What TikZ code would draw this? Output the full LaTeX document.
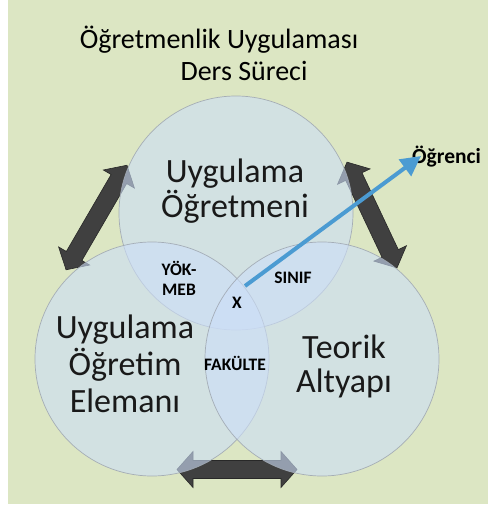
\documentclass[tikz,border=0pt]{standalone}
\usepackage{fontspec}
\setmainfont{Carlito}
\usetikzlibrary{arrows.meta}
\definecolor{bggreen}{RGB}{220,230,195}
\definecolor{circfill}{RGB}{204,222,248}
\definecolor{circline}{RGB}{160,168,178}
\definecolor{arrgray}{RGB}{64,64,64}
\definecolor{arrline}{RGB}{40,40,40}
\definecolor{bluearr}{RGB}{75,155,210}
\tikzset{
  circ/.style={circle, minimum size=234pt, inner sep=0pt, fill=circfill, fill opacity=0.6, draw=circline, draw opacity=0.9, line width=0.7pt},
  bigtxt/.style={font=\fontsize{34}{40}\selectfont, text=black!90, anchor=base, inner sep=0pt},
  ttl/.style={font=\fontsize{28}{32}\selectfont, text=black, anchor=base, inner sep=0pt},
  lbl/.style={font=\fontsize{17.5}{20}\selectfont\bfseries, text=black, anchor=base, inner sep=0pt},
  darr/.style={fill=arrgray, draw=arrline, line width=0.6pt, line join=miter}
}
% double arrow: #1 centre, #2 angle, #3 length
\newcommand{\dblarrow}[3]{%
  \begin{scope}[shift={#1}, rotate=#2]
    \pgfmathsetmacro{\hl}{#3/2}
    \pgfmathsetmacro{\hb}{#3/2-16}
    \filldraw[darr] (-\hl,0) -- (-\hb,18) -- (-\hb,9) -- (\hb,9) -- (\hb,18) -- (\hl,0)
      -- (\hb,-18) -- (\hb,-9) -- (-\hb,-9) -- (-\hb,-18) -- cycle;
  \end{scope}}
\begin{document}
\begin{tikzpicture}[x=1pt, y=-1pt]
  \useasboundingbox (0,0) rectangle (488,507);
  \fill[white] (0,0) rectangle (488,507);
  \fill[bggreen] (8,0) rectangle (488,504);

  % connecting double arrows (behind circles)
  \dblarrow{(96.5,217.5)}{59.8}{121}
  \dblarrow{(372,215)}{-64.7}{117}
  \dblarrow{(237,469.5)}{0}{120}

  % circles
  \node[circ] (top) at (236,213) {};
  \node[circ] (left) at (152,359) {};
  \node[circ] (right) at (322,359) {};

  % title
  \node[ttl] (t1) at (219,48) {Öğretmenlik Uygulaması};
  \node[ttl] (t2) at (244,80) {Ders Süreci};

  % circle labels
  \node[bigtxt] (u1) at (235,182) {Uygulama};
  \node[bigtxt] (u2) at (235,217) {Öğretmeni};
  \node[bigtxt] (l1) at (125,338) {Uygulama};
  \node[bigtxt] (l2) at (125,375) {Öğretim};
  \node[bigtxt] (l3) at (125,412) {Elemanı};
  \node[bigtxt] (r1) at (344,358) {Teorik};
  \node[bigtxt] (r2) at (344,392) {Altyapı};

  % intersection labels
  \node[lbl] (yok) at (179,275) {YÖK-};
  \node[lbl] (meb) at (179,295) {MEB};
  \node[lbl] (sinif) at (293,283) {SINIF};
  \node[lbl] (x) at (237,308) {X};
  \node[lbl] (fak) at (235,370) {FAKÜLTE};
  \node[lbl, font=\fontsize{21.5}{24}\selectfont\bfseries, anchor=base west] (ogr) at (412,163) {Öğrenci};

  % blue arrow
  \coordinate (bstart) at (245,286);
  \coordinate (bend) at (421,156);
  \draw[bluearr, line width=4pt, -{Triangle[length=20pt, width=20pt]}] (bstart) -- (bend);
\end{tikzpicture}
\end{document}
